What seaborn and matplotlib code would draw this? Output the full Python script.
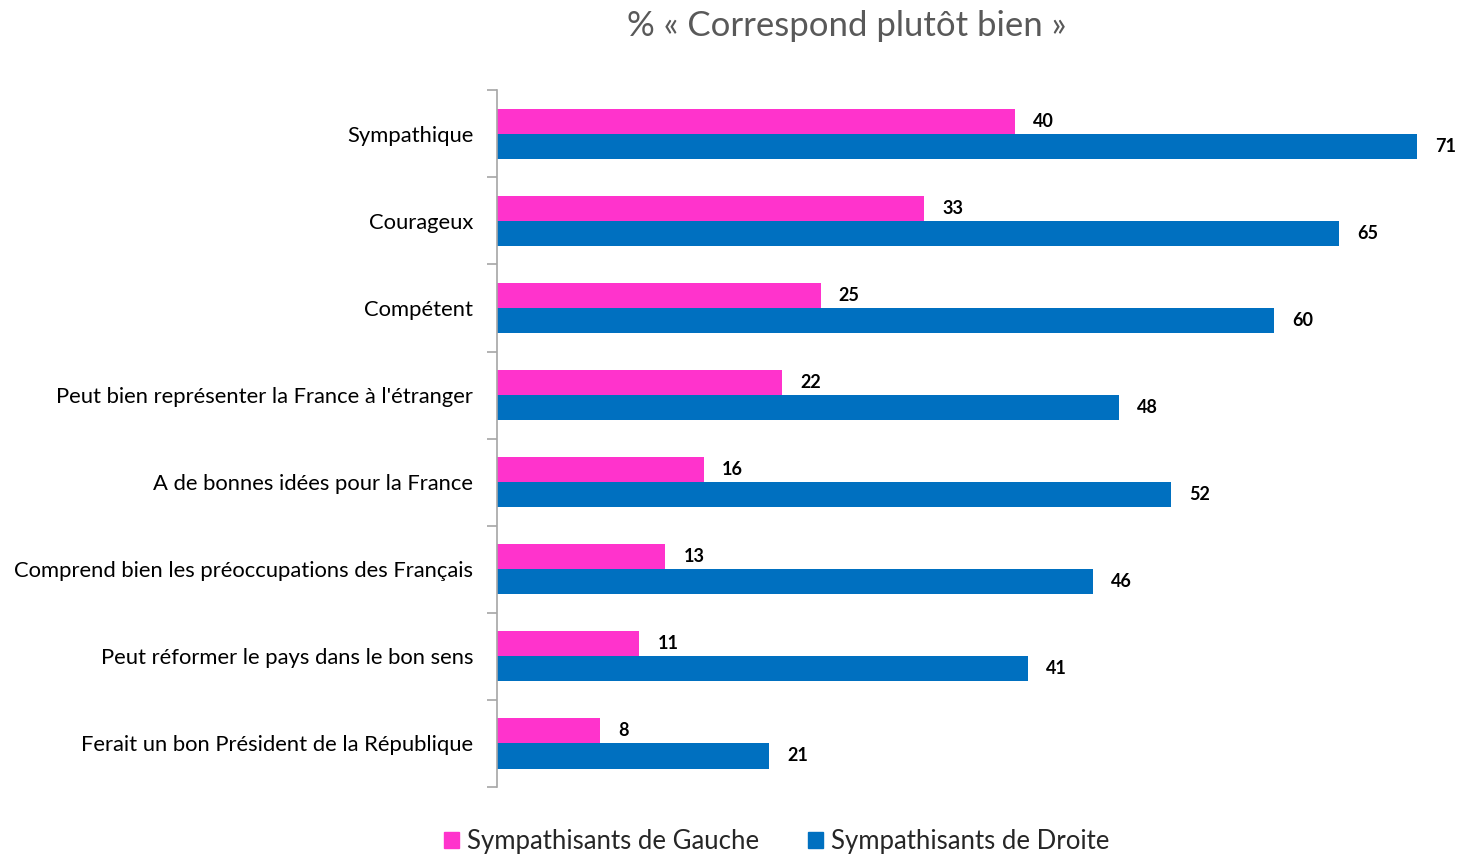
import numpy as np
import pandas as pd
import matplotlib.pyplot as plt
import seaborn as sns

# Data
categories = [
    "Sympathique",
    "Courageux",
    "Compétent",
    "Peut bien représenter la France à l'étranger",
    "A de bonnes idées pour la France",
    "Comprend bien les préoccupations des Français",
    "Peut réformer le pays dans le bon sens",
    "Ferait un bon Président de la République",
]
series_names = ["Sympathisants de Gauche", "Sympathisants de Droite"]
gauche = [40, 33, 25, 22, 16, 13, 11, 8]
droite = [71, 65, 60, 48, 52, 46, 41, 21]
colors = ["#FF33CC", "#0070C0"]
title = "% « Correspond plutôt bien »"

df = pd.DataFrame({
    "categorie": categories * 2,
    "groupe": [series_names[0]] * len(categories) + [series_names[1]] * len(categories),
    "valeur": gauche + droite,
})

sns.set_style("white")
plt.rcParams["font.family"] = ["Lato", "DejaVu Sans"]

fig = plt.figure(figsize=(14.57, 8.55), dpi=100)
ax = fig.add_axes([0.341, 0.0795, 0.659, 0.815])

sns.barplot(data=df, y="categorie", x="valeur", hue="groupe", order=categories,
            hue_order=series_names, palette=colors, orient="h", width=0.575,
            saturation=1, linewidth=0, ax=ax, legend=False)

for cont in ax.containers:
    ax.bar_label(cont, labels=[f"{v:g}" for v in cont.datavalues], padding=13,
                 fontsize=13, fontweight="bold", color="black")

ax.set_xlim(0, 74.1)
ax.set_ylim(len(categories) - 0.5, -0.5)
ax.set_xlabel("")
ax.set_ylabel("")
ax.set_xticks([])

for s in ["top", "right", "bottom"]:
    ax.spines[s].set_visible(False)
ax.spines["left"].set_color("#A6A6A6")
ax.spines["left"].set_linewidth(1.2)

ax.set_yticks(np.arange(-0.5, len(categories), 1), minor=True)
ax.tick_params(axis="y", which="minor", length=7, width=1.2, color="#A6A6A6", left=True)
ax.tick_params(axis="y", which="major", length=0, pad=17, labelsize=15.8, labelcolor="black")

handles = [plt.Rectangle((0, 0), 1, 1, color=c) for c in colors]
fig.legend(handles, series_names, loc="center", bbox_to_anchor=(0.533, 0.016), ncol=2,
           frameon=False, fontsize=18.5, handlelength=0.6, handleheight=0.6,
           handletextpad=0.3, columnspacing=1.9, labelcolor="#262626")

fig.text(0.581, 0.97, title, ha="center", va="center", fontsize=25, color="#595959")

fig.savefig("out.png", dpi=100)
